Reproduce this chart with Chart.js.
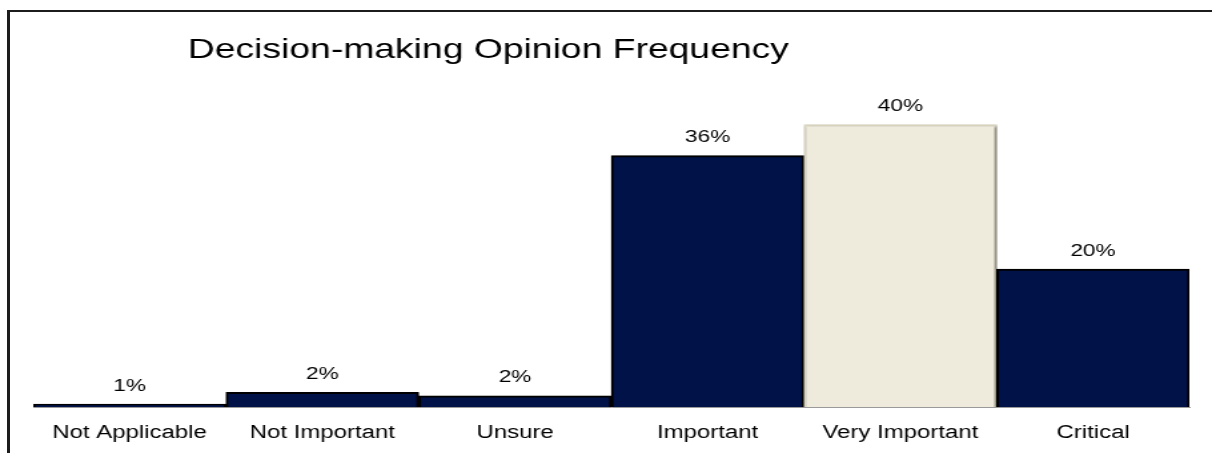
<!DOCTYPE html>
<html>
<head>
<meta charset="utf-8">
<script src="https://cdn.jsdelivr.net/npm/chart.js@4"></script>
<style>
  html, body { margin: 0; padding: 0; background: #fff; overflow: hidden; }
  #frame {
    position: absolute; left: 7px; top: 10px; width: 1300px; height: 500px;
    border-left: 3px solid #1c1c1c; border-top: 2px solid #1c1c1c;
  }
  #opinion-chart { position: absolute; left: 0; top: 0; }
</style>
</head>
<body>
<div id="frame"></div>
<!-- drawn narrow and stretched by css, like the original picture -->
<canvas id="opinion-chart" width="910" height="453" style="width:1212px;height:453px"></canvas>
<script>
var categories = ['Not Applicable', 'Not Important', 'Unsure', 'Important', 'Very Important', 'Critical'];
var percent = [0.4, 2.1, 1.6, 35.7, 40.1, 19.6];
var percentLabels = ['1%', '2%', '2%', '36%', '40%', '20%'];
var barColors = ['#001248', '#001248', '#001248', '#001248', '#EEEBDD', '#001248'];
var barBorders = ['#000000', '#000000', '#000000', '#000000', '#DDD9C5', '#000000'];

const fontFamily = "'Liberation Sans', Arial, sans-serif";

const titleText = {
    id: 'titleText',
    afterDraw(chart) {
        const c = chart.ctx;
        c.save();
        c.font = '28px ' + fontFamily;
        c.fillStyle = '#000';
        c.textAlign = 'left';
        c.textBaseline = 'alphabetic';
        c.fillText('Decision-making Opinion Frequency', 141, 58);
        c.restore();
    }
};

const valueLabels = {
    id: 'valueLabels',
    afterDatasetsDraw(chart) {
        const c = chart.ctx;
        c.save();
        c.font = '17px ' + fontFamily;
        c.fillStyle = '#000';
        c.textAlign = 'center';
        c.textBaseline = 'middle';
        chart.getDatasetMeta(0).data.forEach(function(bar, i) {
            c.fillText(percentLabels[i], bar.x, bar.y - 18);
        });
        c.restore();
    }
};

const barShadow = {
    id: 'barShadow',
    beforeDatasetsDraw(chart) {
        const c = chart.ctx;
        c.save();
        c.shadowColor = 'rgba(0,0,0,0.45)';
        c.shadowOffsetX = 1;
        c.shadowOffsetY = 1;
        c.shadowBlur = 2;
    },
    afterDatasetsDraw(chart) {
        chart.ctx.restore();
    }
};

const ctx = document.getElementById('opinion-chart');

var opinionChart = new Chart(ctx, {
    type: 'bar',
    data: {
        labels: categories,
        datasets: [{
            label: 'Frequency',
            data: percent,
            backgroundColor: barColors,
            borderColor: barBorders,
            borderWidth: 2,
            borderSkipped: 'start',
            categoryPercentage: 1,
            barPercentage: 1
        }]
    },
    options: {
        responsive: false,
        animation: false,
        layout: {
            padding: { left: 25, right: 17, top: 55, bottom: 0 }
        },
        plugins: {
            legend: { display: false },
            tooltip: { enabled: false }
        },
        scales: {
            x: {
                grid: { display: false, drawTicks: false },
                border: { display: true, color: '#9a9a9a', width: 1 },
                ticks: {
                    color: '#000',
                    padding: 15,
                    font: { family: fontFamily, size: 18 }
                },
                afterFit: function(scale) {
                    scale.height = 46;
                }
            },
            y: {
                display: false,
                min: 0,
                max: 50
            }
        }
    },
    plugins: [barShadow, valueLabels, titleText]
});
</script>
</body>
</html>
